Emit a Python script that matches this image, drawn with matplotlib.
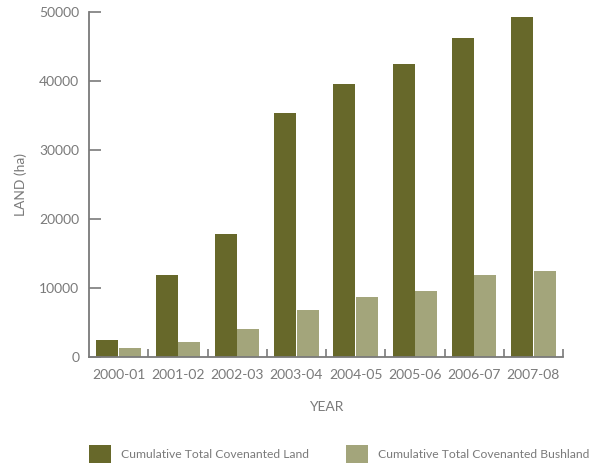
import matplotlib
matplotlib.use('Agg')
import matplotlib.pyplot as plt
import numpy as np

years = ['2000-01', '2001-02', '2002-03', '2003-04', '2004-05', '2005-06', '2006-07', '2007-08']
total_land = [2450, 11900, 17800, 35300, 39500, 42400, 46200, 49200]
total_bushland = [1300, 2150, 4050, 6800, 8700, 9550, 11850, 12450]

dark = '#67682a'
light = '#a3a57b'
grey = '#7a7a7a'

plt.rcParams['font.family'] = ['Lato', 'DejaVu Sans']

fig = plt.figure(figsize=(6.1, 4.63), dpi=100)
ax = fig.add_axes([0.146, 0.229, 0.777, 0.746])

x = np.arange(len(years))
w = 0.37
ax.bar(x - 0.19, total_land, w, color=dark, label='Cumulative Total Covenanted Land')
ax.bar(x + 0.19, total_bushland, w, color=light, label='Cumulative Total Covenanted Bushland')

ax.set_xlim(-0.5, len(years) - 0.5)
ax.set_ylim(0, 50000)
ax.set_yticks(range(0, 50001, 10000))
ax.set_xticks(x)
ax.set_xticklabels(years)
ax.set_xticks(np.arange(0.5, len(years), 1), minor=True)

for s in ['top', 'right']:
    ax.spines[s].set_visible(False)
for s in ['left', 'bottom']:
    ax.spines[s].set_color(grey)
    ax.spines[s].set_linewidth(1.3)

ax.tick_params(axis='y', direction='in', length=8.5, width=1.2, color=grey,
               labelcolor=grey, labelsize=10, pad=7)
ax.tick_params(axis='x', which='major', length=0, labelcolor=grey, labelsize=10, pad=9)
ax.tick_params(axis='x', which='minor', direction='in', length=6, width=1.2, color=grey)

ax.set_ylabel('LAND (ha)', color=grey, fontsize=10, labelpad=9)
ax.set_xlabel('YEAR', color=grey, fontsize=10, labelpad=14)

leg = fig.legend(loc='lower left', bbox_to_anchor=(0.146, 0.0), ncol=2, frameon=False,
                 fontsize=8.7, handlelength=1.82, handleheight=1.95, columnspacing=3.1,
                 handletextpad=0.8, borderpad=0, borderaxespad=0)
for t in leg.get_texts():
    t.set_color(grey)

fig.savefig('out.png', dpi=100)
